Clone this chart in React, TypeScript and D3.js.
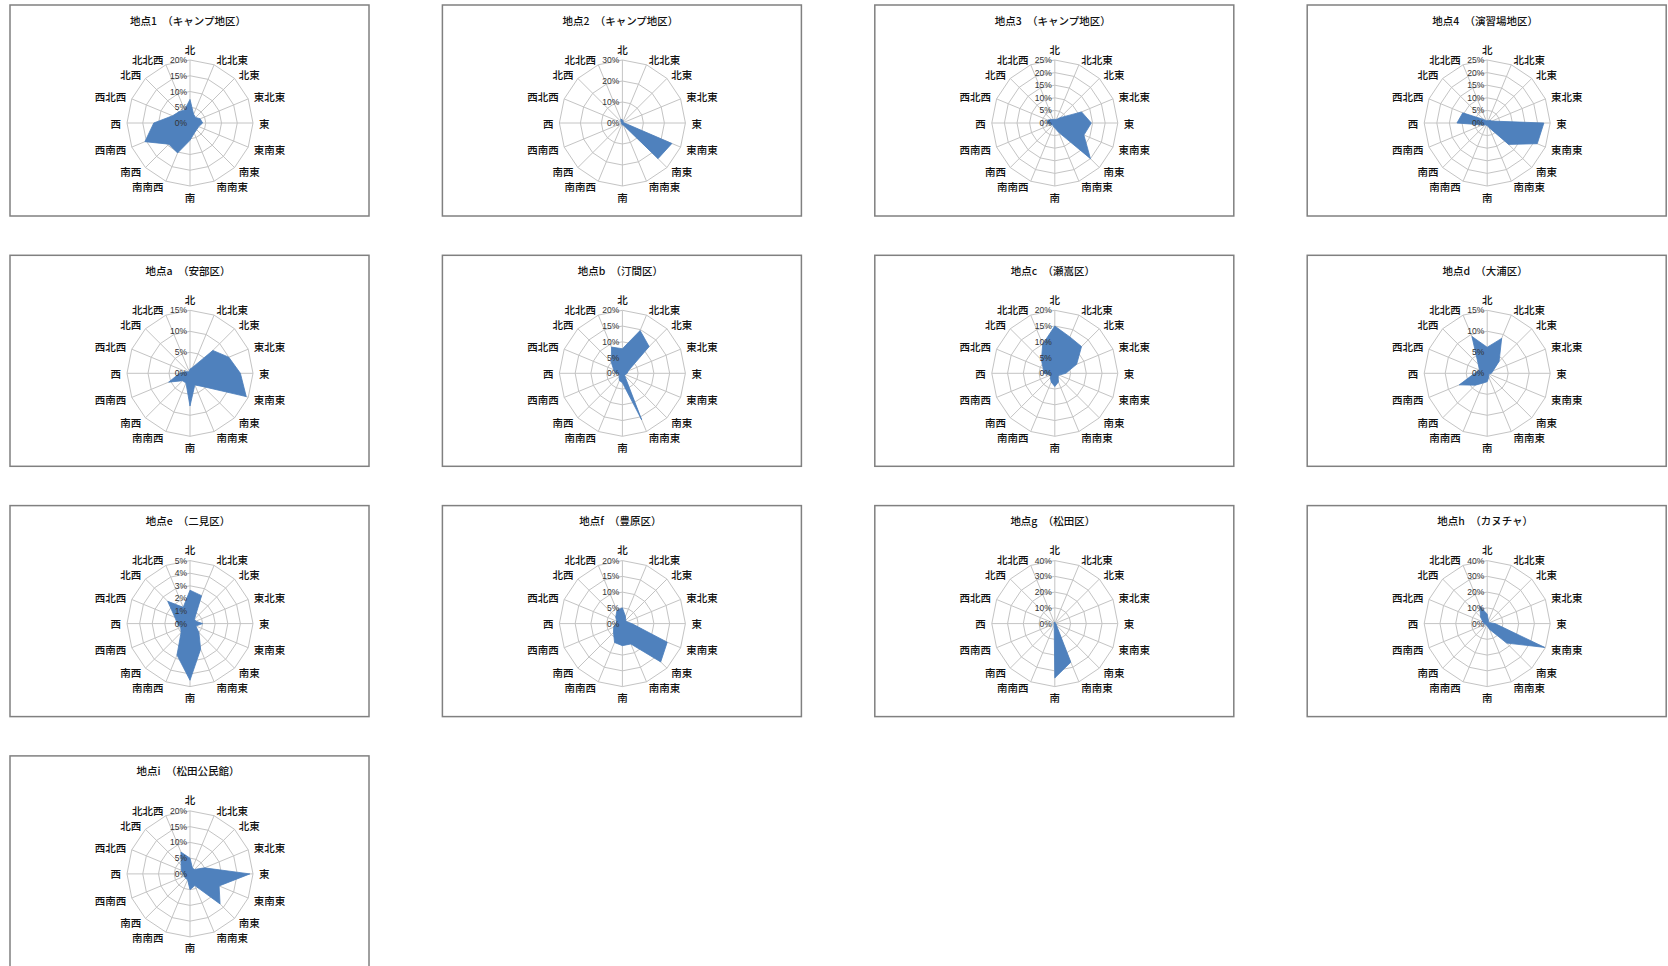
import React from 'react';
import * as d3 from 'd3';

// 16 wind directions, clockwise from north
const directions = ['北', '北北東', '北東', '東北東', '東', '東南東', '南東', '南南東', '南', '南南西', '南西', '西南西', '西', '西北西', '北西', '北北西'];

const titles = [
  '地点1　（キャンプ地区）',
  '地点2　（キャンプ地区）',
  '地点3　（キャンプ地区）',
  '地点4　（演習場地区）',
  '地点a　（安部区）',
  '地点b　（汀間区）',
  '地点c　（瀬嵩区）',
  '地点d　（大浦区）',
  '地点e　（二見区）',
  '地点f　（豊原区）',
  '地点g　（松田区）',
  '地点h　（カヌチャ）',
  '地点i　（松田公民館）',
];

// frequency (%) by direction
const site1 = [7.5, 3, 2.5, 3.5, 4, 3, 3, 3.5, 5.5, 10.3, 9.5, 15.5, 11.5, 6, 5, 4.5];
const site2 = [1.5, 1, 0.5, 0.5, 1, 25.5, 24, 1, 1, 0.5, 0.5, 0.5, 0.5, 0.5, 1, 2];
const site3 = [1.5, 1.5, 3, 11.5, 14.5, 12.5, 20, 4, 2, 1.5, 1, 1.5, 3, 3, 2, 1.5];
const site4 = [1, 1, 1.5, 2, 22.5, 21.5, 12, 2, 1, 1, 1, 2, 12, 10.5, 2, 1];
const siteA = [1, 1.5, 7.7, 10, 12, 14.5, 4.5, 3, 7.8, 2.5, 2.5, 5.5, 2.5, 1, 0.5, 0.5];
const siteB = [7.8, 14.7, 12, 2, 1.5, 1, 1, 16, 3, 2.5, 1.5, 1, 2, 3, 5, 9];
const siteC = [15, 12.5, 12, 7.5, 3.5, 1.5, 1.5, 3, 4.2, 3, 2, 1.5, 3.5, 4, 6, 10];
const siteD = [6.2, 9, 4, 1.5, 1, 0.5, 0.5, 1, 2, 2.5, 4, 7.2, 3, 2, 3, 9.5];
const siteE = [2.65, 2.4, 0.5, 0.5, 1, 0.5, 1, 2.2, 4.5, 2.7, 1, 0.8, 1, 1.3, 2.5, 1.4];
const siteF = [5, 2.5, 1.5, 1.5, 3, 15.4, 17.2, 7, 7, 6.5, 4, 3, 2, 2, 3, 4.5];
const siteG = [1, 0.5, 0.5, 0.5, 0.5, 1, 1.5, 26.5, 34.5, 1, 0.5, 0.5, 0.5, 0.5, 0.5, 1];
const siteH = [6, 2, 1, 1.5, 5, 39.5, 17.5, 4, 1.5, 1, 1, 1, 2, 3, 6, 12];
const siteI = [5, 2, 2, 5, 19, 10, 13.5, 4, 5, 2, 2, 2, 2, 3, 4, 7.5];

// radial axis ticks (%)
const ticks5 = [0, 1, 2, 3, 4, 5];
const ticks15 = [0, 5, 10, 15];
const ticks20 = [0, 5, 10, 15, 20];
const ticks25 = [0, 5, 10, 15, 20, 25];
const ticks30 = [0, 10, 20, 30];
const ticks40 = [0, 10, 20, 30, 40];

const seriesList = [site1, site2, site3, site4, siteA, siteB, siteC, siteD, siteE, siteF, siteG, siteH, siteI];
const tickList = [ticks20, ticks30, ticks25, ticks25, ticks15, ticks20, ticks20, ticks15, ticks5, ticks20, ticks40, ticks40, ticks20];

const W = 1668;
const H = 966;
const boxW = 359;
const boxH = 211;
const R = 63;
const step = (2 * Math.PI) / directions.length;
const font = '"Noto Sans CJK JP", "Noto Sans", sans-serif';

const Radar = ({ x0, y0, title, values, ticks }) => {
  const cx = x0 + 180;
  const cy = y0 + 118;
  const max = ticks[ticks.length - 1];
  const r = d3.scaleLinear().domain([0, max]).range([0, R]);

  const radial = d3.lineRadial<number>()
    .angle((_, i) => i * step)
    .radius(d => r(d))
    .curve(d3.curveLinearClosed);

  return (
    <g>
      <rect x={x0} y={y0} width={boxW} height={boxH} fill="#fff" stroke="#808080" strokeWidth={1.5} />
      <text x={x0 + 178} y={y0 + 15} textAnchor="middle" dominantBaseline="central"
        fontSize={10.5} fontWeight={500} fontFamily={font} fill="#111">{title}</text>
      <g transform={`translate(${cx},${cy})`}>
        {ticks.filter(t => t > 0).map(t => (
          <path key={t} d={radial(directions.map(() => t)) || ''} fill="none" stroke="#c4c4c4" strokeWidth={1} />
        ))}
        {directions.map((d, i) => (
          <line key={d} x1={0} y1={0} x2={R * Math.sin(i * step)} y2={-R * Math.cos(i * step)}
            stroke="#c4c4c4" strokeWidth={1} />
        ))}
        <path d={radial(values) || ''} fill="#4F81BD" stroke="#4A7EBB" strokeWidth={0.8} strokeLinejoin="round" />
        {ticks.map(t => (
          <text key={t} x={-3} y={-r(t)} textAnchor="end" dominantBaseline="central"
            fontSize={8.5} fontFamily='"Liberation Sans Narrow", "Arial Narrow", "Liberation Sans", sans-serif'
            fill="#333">{t}%</text>
        ))}
        {directions.map((d, i) => {
          const s = Math.sin(i * step);
          const c = Math.cos(i * step);
          const anchor = Math.abs(s) < 0.1 ? 'middle' : s > 0 ? 'start' : 'end';
          const off = Math.abs(s) < 0.1 ? -c * 5 : 0;
          return (
            <text key={d} x={(R + 6) * s} y={-(R + 6) * c + off} textAnchor={anchor} dominantBaseline="central"
              fontSize={10.5} fontWeight={500} fontFamily={font} fill="#111">{d}</text>
          );
        })}
      </g>
    </g>
  );
};

export default function App() {
  return (
    <svg width={W} height={H} viewBox={`0 0 ${W} ${H}`}
      style={{ position: 'absolute', left: 0, top: 0, background: '#fff' }}>
      <rect width={W} height={H} fill="#fff" />
      {seriesList.map((values, i) => (
        <Radar key={titles[i]}
          x0={10 + (i % 4) * 432.4}
          y0={5 + Math.floor(i / 4) * 250.3}
          title={titles[i]}
          values={values}
          ticks={tickList[i]} />
      ))}
    </svg>
  );
}
